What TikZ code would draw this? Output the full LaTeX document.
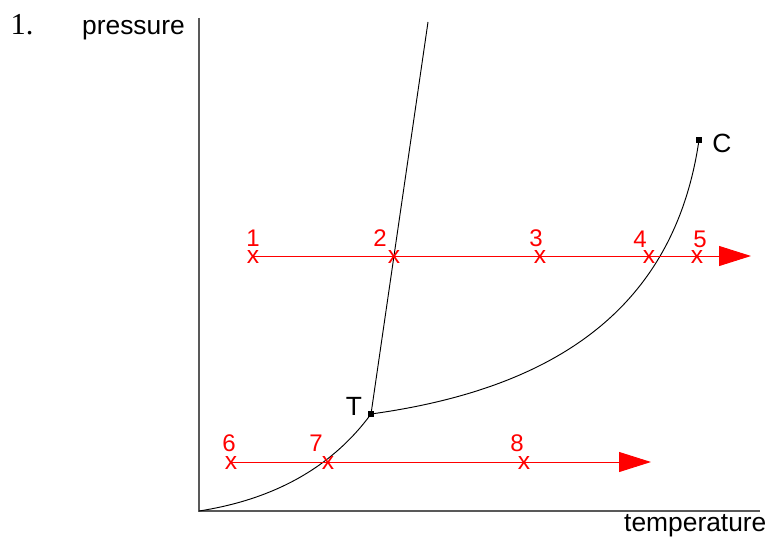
\documentclass[tikz,border=0pt]{standalone}
\usepackage{fontspec}
\setmainfont{Liberation Sans}
\newfontfamily\numfont{Liberation Serif}
\usetikzlibrary{arrows.meta, positioning}

\begin{document}
\begin{tikzpicture}[
  x=0.03cm, y=-0.03cm,
  axis/.style={draw=gray!70!black, line width=1.4pt},
  curve/.style={draw=black, line width=0.8pt},
  path/.style={draw=red, line width=0.8pt, -{Triangle[length=0.96cm, width=0.6cm]}},
  xmark/.style={text=red, inner sep=0pt, font=\fontsize{21}{22}\selectfont},
  num/.style={text=red, inner sep=0pt, font=\fontsize{20.5}{22}\selectfont},
  dot/.style={fill=black, inner sep=0pt, minimum size=0.18cm},
  lbl/.style={inner sep=0pt, font=\fontsize{22.5}{25}\selectfont},
]
\useasboundingbox (0,0) rectangle (769,536);

% axes
\coordinate (o) at (199,511);
\coordinate (ytop) at (199,18);
\coordinate (xend) at (760,511);
\draw[axis] (ytop) -- (o) -- (xend);
\node[font=\numfont\fontsize{26}{28}\selectfont, anchor=base, inner sep=0pt] (num1) at (22,35) {1.};
\node[lbl, anchor=base east] (ylab) at (185,35) {pressure};
\node[lbl, anchor=base west] (xlab) at (624,531) {temperature};

% triple and critical points
\node[dot] (T) at (371,414) {};
\node[dot] (C) at (699,140) {};
\node[lbl] (Tlab) at (354,406) {T};
\node[lbl] (Clab) at (722,143) {C};

% phase boundaries
\coordinate (mtop) at (428,22);
\draw[curve] (T.center) -- (mtop);
\draw[curve] (T.center) .. controls (560,388) and (675,305) .. (C.center);
\draw[curve] (o) .. controls (270,500) and (330,470) .. (T.center);

% upper isobar
\node[xmark] (p1) at (253,257) {x};
\node[xmark] (p2) at (394,257) {x};
\node[xmark] (p3) at (540,257) {x};
\node[xmark] (p4) at (649,257) {x};
\node[xmark] (p5) at (697,257) {x};
\coordinate (endA) at (751,256);
\draw[path] (p1.center |- endA) -- (endA);
\node[num] at (253,238) {1};
\node[num] at (380,238) {2};
\node[num] at (536,238) {3};
\node[num] at (640,239) {4};
\node[num] at (700,239) {5};

% lower isobar
\node[xmark] (p6) at (231,463) {x};
\node[xmark] (p7) at (328,463) {x};
\node[xmark] (p8) at (524,463) {x};
\coordinate (endB) at (651,462);
\draw[path] (p6.center |- endB) -- (endB);
\node[num] at (229,443) {6};
\node[num] at (316,443) {7};
\node[num] at (517,443) {8};
\end{tikzpicture}
\end{document}
